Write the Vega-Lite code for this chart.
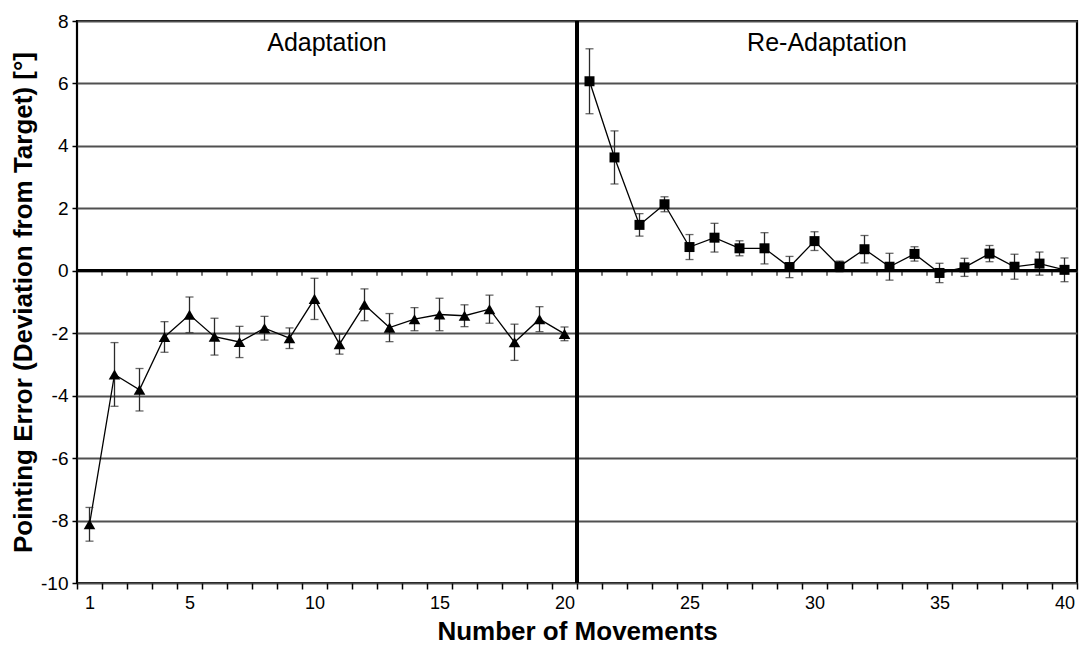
{
  "$schema": "https://vega.github.io/schema/vega-lite/v6.json",
  "width": 1000,
  "height": 562,
  "autosize": {"type": "none"},
  "padding": {"left": 77, "top": 21, "right": 4, "bottom": 65},
  "background": "white",
  "config": {
    "font": "Liberation Sans",
    "view": {"stroke": "black", "strokeWidth": 2.2},
    "axis": {"labelColor": "black", "titleColor": "black"}
  },
  "data": {
    "values": [
      {"n": 1, "phase": "Adaptation", "mean": -8.12, "err": 0.54},
      {"n": 2, "phase": "Adaptation", "mean": -3.32, "err": 1.02},
      {"n": 3, "phase": "Adaptation", "mean": -3.81, "err": 0.68},
      {"n": 4, "phase": "Adaptation", "mean": -2.12, "err": 0.49},
      {"n": 5, "phase": "Adaptation", "mean": -1.41, "err": 0.57},
      {"n": 6, "phase": "Adaptation", "mean": -2.11, "err": 0.59},
      {"n": 7, "phase": "Adaptation", "mean": -2.28, "err": 0.5},
      {"n": 8, "phase": "Adaptation", "mean": -1.84, "err": 0.38},
      {"n": 9, "phase": "Adaptation", "mean": -2.16, "err": 0.33},
      {"n": 10, "phase": "Adaptation", "mean": -0.9, "err": 0.66},
      {"n": 11, "phase": "Adaptation", "mean": -2.35, "err": 0.32},
      {"n": 12, "phase": "Adaptation", "mean": -1.09, "err": 0.51},
      {"n": 13, "phase": "Adaptation", "mean": -1.82, "err": 0.45},
      {"n": 14, "phase": "Adaptation", "mean": -1.55, "err": 0.37},
      {"n": 15, "phase": "Adaptation", "mean": -1.4, "err": 0.52},
      {"n": 16, "phase": "Adaptation", "mean": -1.44, "err": 0.35},
      {"n": 17, "phase": "Adaptation", "mean": -1.23, "err": 0.45},
      {"n": 18, "phase": "Adaptation", "mean": -2.29, "err": 0.58},
      {"n": 19, "phase": "Adaptation", "mean": -1.55, "err": 0.4},
      {"n": 20, "phase": "Adaptation", "mean": -2.02, "err": 0.22},
      {"n": 21, "phase": "Re-Adaptation", "mean": 6.07, "err": 1.04},
      {"n": 22, "phase": "Re-Adaptation", "mean": 3.63, "err": 0.85},
      {"n": 23, "phase": "Re-Adaptation", "mean": 1.47, "err": 0.36},
      {"n": 24, "phase": "Re-Adaptation", "mean": 2.13, "err": 0.24},
      {"n": 25, "phase": "Re-Adaptation", "mean": 0.76, "err": 0.4},
      {"n": 26, "phase": "Re-Adaptation", "mean": 1.06, "err": 0.46},
      {"n": 27, "phase": "Re-Adaptation", "mean": 0.72, "err": 0.24},
      {"n": 28, "phase": "Re-Adaptation", "mean": 0.72, "err": 0.5},
      {"n": 29, "phase": "Re-Adaptation", "mean": 0.12, "err": 0.34},
      {"n": 30, "phase": "Re-Adaptation", "mean": 0.95, "err": 0.3},
      {"n": 31, "phase": "Re-Adaptation", "mean": 0.14, "err": 0.17},
      {"n": 32, "phase": "Re-Adaptation", "mean": 0.69, "err": 0.44},
      {"n": 33, "phase": "Re-Adaptation", "mean": 0.13, "err": 0.43},
      {"n": 34, "phase": "Re-Adaptation", "mean": 0.54, "err": 0.23},
      {"n": 35, "phase": "Re-Adaptation", "mean": -0.07, "err": 0.31},
      {"n": 36, "phase": "Re-Adaptation", "mean": 0.11, "err": 0.29},
      {"n": 37, "phase": "Re-Adaptation", "mean": 0.55, "err": 0.26},
      {"n": 38, "phase": "Re-Adaptation", "mean": 0.13, "err": 0.4},
      {"n": 39, "phase": "Re-Adaptation", "mean": 0.23, "err": 0.37},
      {"n": 40, "phase": "Re-Adaptation", "mean": 0.03, "err": 0.38}
    ]
  },
  "resolve": {"axis": {"x": "independent"}},
  "layer": [
    {
      "mark": {"type": "line", "color": "black", "strokeWidth": 1.3},
      "encoding": {
        "x": {
          "field": "n",
          "type": "quantitative",
          "scale": {"domain": [0.5, 40.5], "nice": false, "zero": false},
          "axis": {
            "orient": "bottom",
            "values": [0.5, 1.5, 2.5, 3.5, 4.5, 5.5, 6.5, 7.5, 8.5, 9.5, 10.5, 11.5, 12.5, 13.5, 14.5, 15.5, 16.5, 17.5, 18.5, 19.5, 20.5, 21.5, 22.5, 23.5, 24.5, 25.5, 26.5, 27.5, 28.5, 29.5, 30.5, 31.5, 32.5, 33.5, 34.5, 35.5, 36.5, 37.5, 38.5, 39.5, 40.5],
            "labelExpr": "(datum.value + 0.5) == 1 || ((datum.value + 0.5) % 5 == 0 && datum.value < 40) ? format(datum.value + 0.5, 'd') : ''",
            "labelOffset": 12.5,
            "labelFontSize": 18,
            "labelPadding": 5,
            "labelOverlap": false,
            "labelFlush": false,
            "labelBound": false,
            "tickSize": 6,
            "tickColor": "black",
            "tickWidth": 1.5,
            "domain": false,
            "grid": false,
            "title": "Number of Movements",
            "titleFontSize": 26,
            "titleFontWeight": "bold",
            "titlePadding": 6
          }
        },
        "y": {
          "field": "mean",
          "type": "quantitative",
          "title": "Pointing Error (Deviation from Target) [°]",
          "scale": {"domain": [-10, 8], "nice": false, "zero": false},
          "axis": {
            "values": [-10, -8, -6, -4, -2, 0, 2, 4, 6, 8],
            "labelExpr": "'' + datum.value",
            "grid": true,
            "gridColor": "#505050",
            "gridWidth": 1.8,
            "domain": false,
            "tickSize": 5,
            "tickColor": "black",
            "tickWidth": 1.5,
            "labelFontSize": 19,
            "labelPadding": 4,
            "titleFontSize": 26,
            "titleFontWeight": "bold",
            "titlePadding": 4
          }
        },
        "detail": {"field": "phase"}
      }
    },
    {
      "mark": {
        "type": "errorbar",
        "color": "#2a2a2a",
        "thickness": 1.3,
        "ticks": {"size": 8, "color": "#2a2a2a", "strokeWidth": 1.3}
      },
      "encoding": {
        "x": {"field": "n", "type": "quantitative", "scale": {"domain": [0.5, 40.5], "nice": false, "zero": false}, "axis": null},
        "y": {"field": "mean", "type": "quantitative", "title": "Pointing Error (Deviation from Target) [°]", "scale": {"domain": [-10, 8], "nice": false, "zero": false}},
        "yError": {"field": "err"}
      }
    },
    {
      "transform": [{"filter": "datum.phase == 'Adaptation'"}],
      "mark": {"type": "point", "shape": "triangle-up", "filled": true, "color": "black", "opacity": 1, "size": 135},
      "encoding": {
        "x": {"field": "n", "type": "quantitative", "scale": {"domain": [0.5, 40.5], "nice": false, "zero": false}, "axis": null},
        "y": {"field": "mean", "type": "quantitative", "title": "Pointing Error (Deviation from Target) [°]", "scale": {"domain": [-10, 8], "nice": false, "zero": false}}
      }
    },
    {
      "transform": [{"filter": "datum.phase == 'Re-Adaptation'"}],
      "mark": {"type": "point", "shape": "square", "filled": true, "color": "black", "opacity": 1, "size": 100},
      "encoding": {
        "x": {"field": "n", "type": "quantitative", "scale": {"domain": [0.5, 40.5], "nice": false, "zero": false}, "axis": null},
        "y": {"field": "mean", "type": "quantitative", "title": "Pointing Error (Deviation from Target) [°]", "scale": {"domain": [-10, 8], "nice": false, "zero": false}}
      }
    },
    {
      "mark": {"type": "text", "fontSize": 25, "color": "black", "baseline": "alphabetic", "align": "center"},
      "encoding": {
        "x": {"aggregate": "mean", "field": "n", "type": "quantitative", "scale": {"domain": [0.5, 40.5], "nice": false, "zero": false}, "axis": null},
        "y": {"datum": 7.05, "type": "quantitative", "title": "Pointing Error (Deviation from Target) [°]", "scale": {"domain": [-10, 8], "nice": false, "zero": false}},
        "text": {"field": "phase"}
      }
    },
    {
      "mark": {"type": "rule", "color": "black", "strokeWidth": 2},
      "encoding": {
        "y": {"datum": 0, "type": "quantitative", "title": "Pointing Error (Deviation from Target) [°]", "scale": {"domain": [-10, 8], "nice": false, "zero": false}}
      }
    },
    {
      "mark": {"type": "tick", "orient": "horizontal", "color": "black", "size": 1.5, "thickness": 5, "xOffset": -12.5, "yOffset": 2.5},
      "encoding": {
        "x": {"field": "n", "type": "quantitative", "scale": {"domain": [0.5, 40.5], "nice": false, "zero": false}, "axis": null},
        "y": {"datum": 0, "type": "quantitative", "title": "Pointing Error (Deviation from Target) [°]", "scale": {"domain": [-10, 8], "nice": false, "zero": false}}
      }
    },
    {
      "mark": {"type": "rule", "color": "black", "strokeWidth": 2.2},
      "encoding": {
        "x": {"datum": 20.5, "type": "quantitative", "scale": {"domain": [0.5, 40.5], "nice": false, "zero": false}, "axis": null}
      }
    }
  ]
}
